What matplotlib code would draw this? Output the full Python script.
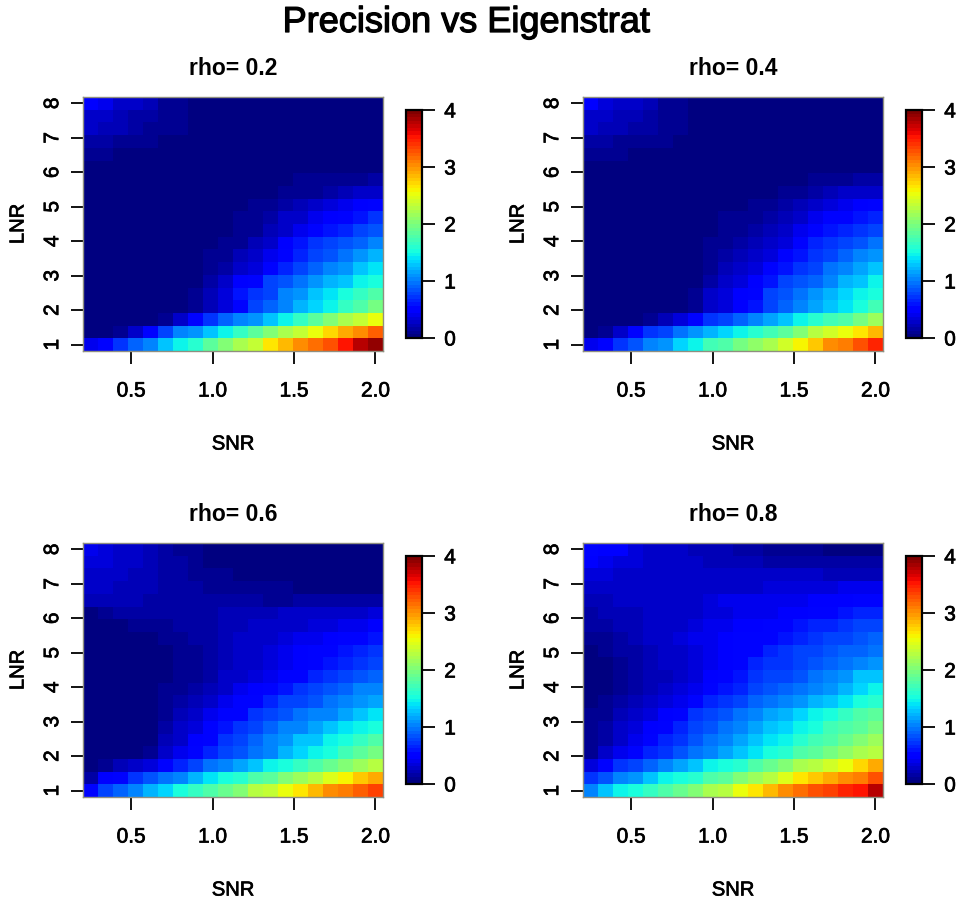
#!/usr/bin/env python3
"""
Precision vs Eigenstrat heat maps, one panel per rho
"""
import numpy as np
import matplotlib
matplotlib.use("Agg")
import matplotlib.pyplot as plt
import matplotlib.patheffects as pe

plt.rcParams["font.family"] = ["Liberation Sans", "DejaVu Sans"]

W, H = 962, 902

snr = np.linspace(0.25, 2.0, 20)
lnr = np.linspace(1, 8, 20)
rhos = ["0.2", "0.4", "0.6", "0.8"]

# rows run from LNR=1 (first) up to LNR=8 (last)
rho_02 = [
    [.4,.5,.7,.9,1.05,1.25,1.45,1.6,1.85,2.05,2.2,2.35,2.65,2.85,3.0,3.15,3.3,3.55,3.75,3.9],
    [0,0,.1,.3,.5,.8,1.0,1.1,1.25,1.45,1.65,1.85,2.0,2.2,2.35,2.55,2.7,2.9,3.05,3.2],
    [0,0,0,0,0,.1,.25,.5,.7,.9,1.0,1.1,1.3,1.45,1.65,1.85,2.0,2.2,2.35,2.55],
    [0,0,0,0,0,0,0,.08,.2,.35,.55,.75,.9,1.05,1.2,1.35,1.45,1.65,1.8,1.95],
    [0,0,0,0,0,0,0,.08,.2,.35,.6,.7,.8,1.0,1.1,1.25,1.4,1.5,1.65,1.8],
    [0,0,0,0,0,0,0,.05,.15,.25,.45,.55,.75,.85,.95,1.1,1.2,1.3,1.45,1.55],
    [0,0,0,0,0,0,0,0,.1,.15,.25,.35,.5,.65,.8,.9,1.0,1.1,1.25,1.4],
    [0,0,0,0,0,0,0,0,.07,.12,.2,.25,.4,.55,.65,.75,.85,.95,1.1,1.2],
    [0,0,0,0,0,0,0,0,0,.07,.12,.2,.3,.45,.6,.7,.8,.85,.9,1.0],
    [0,0,0,0,0,0,0,0,0,0,.07,.12,.2,.3,.4,.5,.6,.65,.75,.85],
    [0,0,0,0,0,0,0,0,0,.03,.07,.12,.15,.25,.3,.4,.45,.5,.6,.7],
    [0,0,0,0,0,0,0,0,0,0,.04,.07,.1,.15,.2,.25,.35,.4,.45,.5],
    [0,0,0,0,0,0,0,0,0,0,.03,.05,.05,.08,.1,.12,.15,.2,.25,.3],
    [0,0,0,0,0,0,0,0,0,0,0,.03,.05,.05,.07,.08,.1,.1,.12,.15],
    [0,0,0,0,0,0,0,0,0,0,0,0,0,0,0,0,0,0,.05,.05],
    [.1,.1,0,0,0,0,0,0,0,0,0,0,0,0,0,0,0,0,0,0],
    [.15,.15,.1,.1,.08,.05,0,0,0,0,0,0,0,0,0,0,0,0,0,0],
    [.25,.2,.2,.15,.12,.1,.08,0,0,0,0,0,0,0,0,0,0,0,0,0],
    [.3,.25,.22,.18,.15,.1,.08,0,0,0,0,0,0,0,0,0,0,0,0,0],
    [.45,.4,.3,.25,.2,.1,.08,0,0,0,0,0,0,0,0,0,0,0,0,0],
]
rho_04 = [
    [.4,.55,.7,.85,1.0,1.1,1.35,1.45,1.7,1.8,1.95,2.1,2.2,2.4,2.6,2.8,3.0,3.1,3.3,3.45],
    [.03,.12,.25,.5,.7,.8,.95,1.1,1.2,1.35,1.45,1.6,1.7,1.85,2.05,2.25,2.4,2.5,2.65,2.85],
    [0,0,0,0,.1,.2,.35,.5,.7,.8,.9,1.0,1.15,1.3,1.45,1.6,1.7,1.8,1.95,2.15],
    [0,0,0,0,0,0,.03,.12,.25,.35,.45,.6,.8,.9,1.0,1.15,1.3,1.4,1.5,1.7],
    [0,0,0,0,0,0,.03,.1,.25,.35,.45,.55,.75,.85,.95,1.1,1.2,1.35,1.45,1.5],
    [0,0,0,0,0,0,0,.05,.15,.25,.35,.45,.6,.75,.85,.9,1.05,1.2,1.3,1.45],
    [0,0,0,0,0,0,0,.03,.12,.2,.28,.35,.5,.6,.7,.8,.95,1.05,1.15,1.25],
    [0,0,0,0,0,0,0,.03,.1,.15,.2,.25,.35,.5,.6,.7,.8,.9,1.0,1.1],
    [0,0,0,0,0,0,0,0,.07,.1,.15,.2,.3,.35,.5,.65,.7,.75,.85,.95],
    [0,0,0,0,0,0,0,0,.05,.07,.1,.15,.2,.3,.4,.5,.6,.65,.7,.8],
    [0,0,0,0,0,0,0,0,.04,.07,.08,.12,.15,.2,.3,.4,.5,.55,.6,.65],
    [0,0,0,0,0,0,0,0,.03,.04,.06,.08,.1,.15,.2,.25,.35,.4,.45,.5],
    [0,0,0,0,0,0,0,0,0,.03,.03,.05,.05,.07,.1,.15,.2,.25,.28,.3],
    [0,0,0,0,0,0,0,0,0,0,.03,.04,.05,.05,.06,.08,.1,.1,.15,.18],
    [0,0,0,0,0,0,0,0,0,0,0,0,0,0,0,.03,.05,.05,.05,.05],
    [.12,.12,.1,0,0,0,0,0,0,0,0,0,0,0,0,0,0,0,0,0],
    [.18,.15,.12,.12,.1,.08,0,0,0,0,0,0,0,0,0,0,0,0,0,0],
    [.25,.22,.2,.18,.15,.1,.1,0,0,0,0,0,0,0,0,0,0,0,0,0],
    [.3,.28,.22,.2,.18,.12,.1,0,0,0,0,0,0,0,0,0,0,0,0,0],
    [.45,.35,.28,.25,.2,.12,.08,0,0,0,0,0,0,0,0,0,0,0,0,0],
]
rho_06 = [
    [.55,.75,.9,1.05,1.2,1.35,1.5,1.65,1.8,1.9,2.05,2.25,2.35,2.5,2.65,2.85,3.05,3.1,3.2,3.35],
    [.15,.45,.55,.7,.85,.95,1.05,1.2,1.4,1.5,1.6,1.75,1.85,2.0,2.15,2.3,2.45,2.6,2.8,2.9],
    [.03,.08,.2,.3,.35,.5,.65,.8,.95,1.05,1.15,1.3,1.45,1.55,1.65,1.75,1.9,2.05,2.15,2.3],
    [0,0,0,0,.1,.25,.4,.5,.65,.75,.85,.95,1.05,1.2,1.35,1.45,1.55,1.7,1.85,1.95],
    [0,0,0,0,.05,.2,.3,.45,.55,.7,.75,.9,1.0,1.1,1.25,1.3,1.45,1.55,1.65,1.8],
    [0,0,0,0,.05,.15,.25,.35,.5,.6,.7,.8,.9,1.0,1.05,1.15,1.25,1.4,1.45,1.55],
    [0,0,0,0,.05,.12,.2,.28,.4,.5,.55,.7,.8,.85,.95,1.0,1.05,1.15,1.3,1.4],
    [0,0,0,0,.03,.1,.15,.2,.25,.4,.5,.55,.65,.75,.8,.85,.95,1.0,1.1,1.15],
    [0,0,0,0,.02,.07,.1,.15,.2,.3,.38,.45,.5,.6,.7,.8,.85,.9,1.0,1.05],
    [0,0,0,0,0,.03,.07,.1,.15,.25,.3,.35,.42,.5,.55,.65,.7,.8,.85,.9],
    [0,0,0,0,0,.05,.07,.1,.15,.2,.25,.3,.35,.42,.48,.52,.6,.65,.72,.8],
    [0,0,0,0,.03,.05,.08,.12,.15,.2,.25,.3,.35,.4,.45,.5,.55,.6,.65,.72],
    [0,0,0,.01,.05,.08,.1,.13,.17,.2,.25,.28,.3,.35,.38,.42,.45,.5,.55,.6],
    [0,.03,.05,.08,.08,.1,.13,.15,.18,.2,.22,.25,.28,.3,.3,.33,.35,.38,.4,.45],
    [.05,.12,.13,.13,.13,.15,.15,.17,.18,.2,.2,.22,.22,.25,.25,.25,.28,.28,.3,.32],
    [.22,.22,.2,.2,.18,.18,.15,.15,.15,.15,.15,.13,.12,.12,.13,.13,.13,.13,.15,.15],
    [.28,.25,.22,.2,.2,.18,.15,.15,.12,.12,.1,.1,.07,.07,.05,.05,.05,.05,.05,.05],
    [.3,.28,.25,.22,.22,.18,.15,.12,.1,.08,.05,.05,.05,.03,.03,.03,.03,.03,.03,.03],
    [.35,.33,.28,.25,.22,.18,.15,.12,.03,.03,.03,.03,0,0,0,0,0,0,0,0],
    [.4,.35,.3,.28,.22,.18,.12,.12,.03,0,0,0,0,0,0,0,0,0,0,0],
]
rho_08 = [
    [1.05,1.3,1.45,1.5,1.65,1.75,1.9,2.0,2.2,2.3,2.5,2.65,2.85,3.0,3.15,3.25,3.35,3.45,3.55,3.75],
    [.7,.85,1.0,1.1,1.3,1.45,1.5,1.6,1.75,1.85,2.0,2.15,2.3,2.45,2.65,2.8,2.9,3.0,3.1,3.25],
    [.35,.5,.7,.8,.9,1.0,1.15,1.3,1.45,1.5,1.6,1.75,1.9,2.05,2.2,2.3,2.4,2.55,2.7,2.9],
    [.12,.25,.38,.5,.65,.72,.85,.95,1.05,1.15,1.25,1.4,1.5,1.6,1.75,1.85,1.95,2.1,2.2,2.3],
    [.1,.18,.3,.42,.55,.65,.72,.85,.95,1.05,1.15,1.25,1.4,1.45,1.6,1.7,1.8,1.9,2.0,2.15],
    [.08,.15,.25,.35,.45,.55,.65,.75,.85,.95,1.05,1.15,1.25,1.35,1.45,1.55,1.7,1.8,1.85,1.95],
    [.08,.12,.2,.3,.35,.45,.55,.7,.78,.85,.95,1.05,1.15,1.2,1.35,1.45,1.55,1.65,1.75,1.85],
    [.05,.08,.15,.22,.27,.35,.42,.55,.65,.72,.8,.88,.95,1.05,1.1,1.2,1.3,1.4,1.5,1.6],
    [.03,.05,.1,.17,.22,.27,.32,.4,.5,.6,.68,.75,.85,.9,.95,1.05,1.1,1.2,1.35,1.45],
    [.03,.03,.1,.15,.2,.22,.3,.35,.45,.5,.6,.7,.75,.8,.85,.95,1.0,1.1,1.25,1.3],
    [.03,.06,.12,.15,.2,.25,.3,.35,.42,.48,.55,.65,.7,.72,.8,.85,.9,.98,1.0,1.1],
    [.05,.08,.15,.18,.22,.25,.3,.35,.4,.45,.5,.55,.65,.7,.75,.8,.82,.88,.92,.98],
    [.08,.12,.18,.2,.25,.28,.32,.38,.42,.45,.5,.52,.55,.6,.65,.7,.75,.8,.82,.88],
    [.15,.15,.2,.2,.25,.28,.3,.33,.38,.4,.45,.48,.5,.55,.6,.65,.65,.7,.75,.78],
    [.18,.2,.2,.22,.25,.28,.3,.3,.32,.35,.38,.4,.42,.45,.48,.55,.55,.6,.65,.65],
    [.22,.22,.25,.25,.28,.3,.3,.3,.35,.38,.38,.38,.4,.4,.42,.45,.45,.48,.5,.5],
    [.3,.3,.3,.28,.28,.3,.3,.3,.3,.3,.3,.3,.32,.32,.35,.35,.35,.38,.38,.38],
    [.35,.35,.3,.3,.3,.28,.28,.28,.25,.25,.25,.25,.25,.25,.25,.25,.22,.2,.2,.2],
    [.45,.42,.35,.33,.3,.28,.25,.25,.22,.2,.2,.2,.18,.18,.15,.15,.15,.15,.15,.15],
    [.5,.48,.45,.33,.3,.28,.25,.22,.2,.2,.18,.15,.12,.12,.1,.1,.05,.05,.05,.05],
]
panels = [rho_02, rho_04, rho_06, rho_08]

x_ticks = [0.5, 1.0, 1.5, 2.0]
y_ticks = [1, 2, 3, 4, 5, 6, 7, 8]
bar_ticks = [0, 1, 2, 3, 4]

# the source text is a little heavier than the regular face
HEAVY = [pe.withStroke(linewidth=0.5, foreground="black")]


def px_axes(fig, left, top, right, bottom):
    return fig.add_axes([left / W, 1 - bottom / H, (right - left) / W, (bottom - top) / H])


def main():
    fig = plt.figure(figsize=(W / 100, H / 100), dpi=100)
    cmap = plt.get_cmap("jet", 64)
    lefts = [83, 583, 83, 583]
    tops = [97, 97, 543, 543]
    for i, vals in enumerate(panels):
        left, top = lefts[i], tops[i]
        ax = px_axes(fig, left, top, left + 300, top + 254)
        mesh = ax.pcolormesh(snr, lnr, np.array(vals), cmap=cmap, vmin=0, vmax=4, shading="nearest")
        ax.set_xticks(x_ticks)
        ax.set_xticklabels(["{:.1f}".format(x) for x in x_ticks])
        ax.set_yticks(y_ticks)
        ax.tick_params(axis="x", length=9, width=1.3, labelsize=15, pad=13)
        ax.tick_params(axis="y", length=9, width=1.3, labelsize=15, pad=6, labelrotation=90)
        for lab in ax.get_yticklabels():
            lab.set_verticalalignment("center")
        for lab in ax.get_xticklabels() + ax.get_yticklabels():
            lab.set_path_effects(HEAVY)
        for spine in ax.spines.values():
            spine.set_color("#8f8f80")
            spine.set_linewidth(1.0)
        fig.text((left + 150) / W, 1 - (top - 22) / H, "rho= " + rhos[i], fontsize=16.5,
                 fontweight="bold", ha="center", va="baseline")
        fig.text((left + 150) / W, 1 - (top + 347) / H, "SNR", fontsize=14.5,
                 ha="center", va="center", path_effects=HEAVY)
        fig.text((left - 65) / W, 1 - (top + 127) / H, "LNR", fontsize=14.5,
                 ha="center", va="center", rotation=90, path_effects=HEAVY)

        cax = px_axes(fig, left + 323, top + 13, left + 339, top + 241)
        bar = fig.colorbar(mesh, cax=cax, ticks=bar_ticks)
        bar.ax.tick_params(length=9, width=1.3, labelsize=15, pad=7)
        for lab in bar.ax.get_yticklabels():
            lab.set_path_effects(HEAVY)
        bar.outline.set_linewidth(1.6)

    fig.text(466 / W, 1 - 32 / H, "Precision vs Eigenstrat", fontsize=26,
             ha="center", va="baseline", path_effects=[pe.withStroke(linewidth=0.9, foreground="black")])
    plt.savefig("out.png", dpi=100)


if __name__ == "__main__":
    main()
